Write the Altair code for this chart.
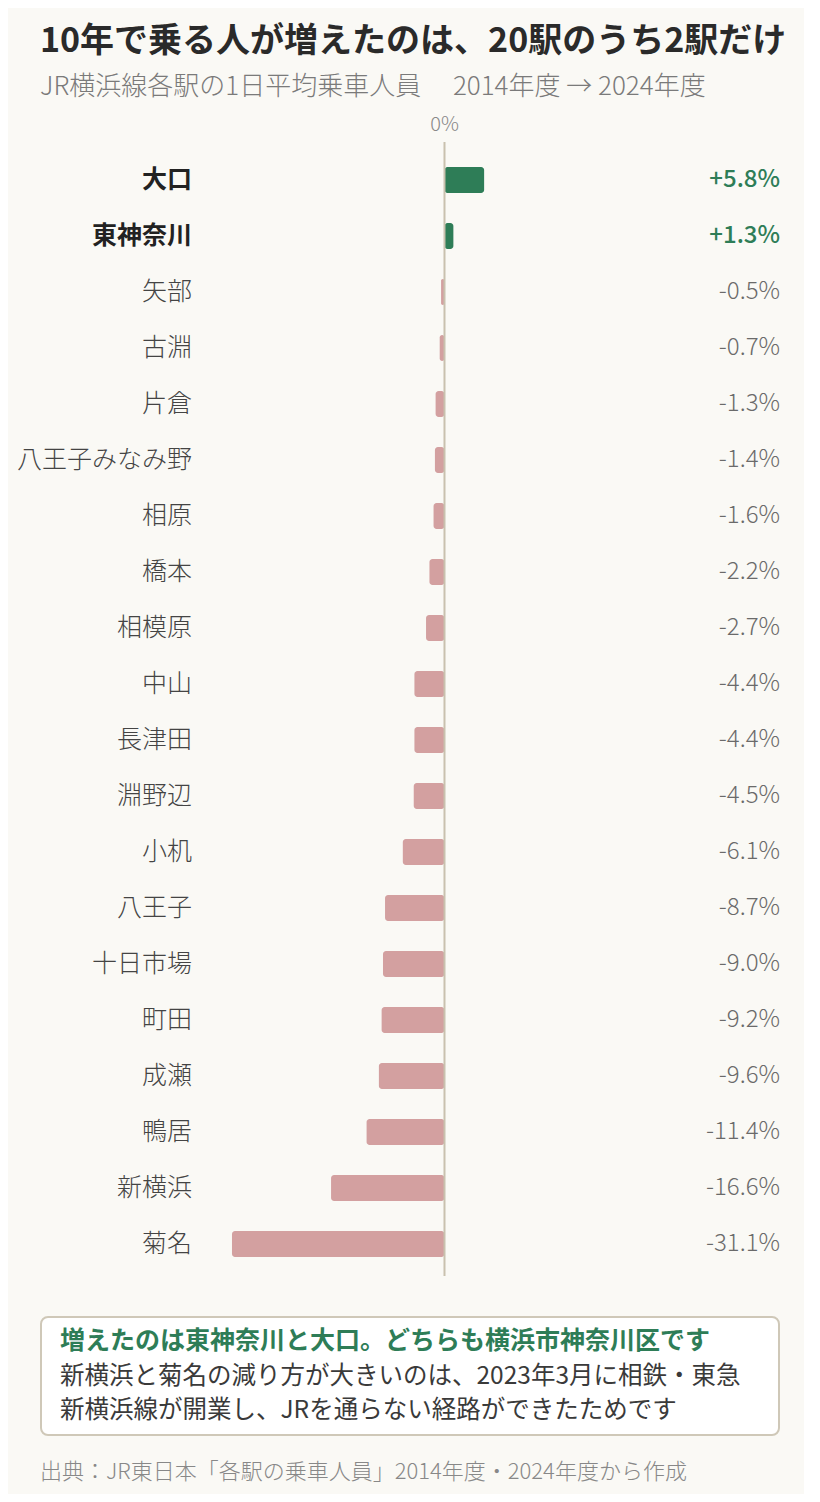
import altair as alt
import pandas as pd

stations = ["大口", "東神奈川", "矢部", "古淵", "片倉", "八王子みなみ野", "相原", "橋本", "相模原",
            "中山", "長津田", "淵野辺", "小机", "八王子", "十日市場", "町田", "成瀬", "鴨居", "新横浜", "菊名"]
changes = [5.8, 1.3, -0.5, -0.7, -1.3, -1.4, -1.6, -2.2, -2.7,
           -4.4, -4.4, -4.5, -6.1, -8.7, -9.0, -9.2, -9.6, -11.4, -16.6, -31.1]
labels = ["+5.8%", "+1.3%", "-0.5%", "-0.7%", "-1.3%", "-1.4%", "-1.6%", "-2.2%", "-2.7%",
          "-4.4%", "-4.4%", "-4.5%", "-6.1%", "-8.7%", "-9.0%", "-9.2%", "-9.6%", "-11.4%", "-16.6%", "-31.1%"]

TITLE = "10年で乗る人が増えたのは、20駅のうち2駅だけ"
SUBTITLE = "JR横浜線各駅の1日平均乗車人員　 2014年度 → 2024年度"
NOTE_HEAD = "増えたのは東神奈川と大口。どちらも横浜市神奈川区です"
NOTE_BODY = ["新横浜と菊名の減り方が大きいのは、2023年3月に相鉄・東急",
             "新横浜線が開業し、JRを通らない経路ができたためです"]
SOURCE = "出典：JR東日本「各駅の乗車人員」2014年度・2024年度から作成"

FONT = "Noto Sans CJK JP"
GREEN = "#2e7d57"
PINK = "#d3a0a0"
BG = "#faf9f5"

df = pd.DataFrame({"station": stations, "change": changes, "label": labels})

W, H = 580, 1140
xscale = alt.Scale(domain=[-35.78, 49.10], nice=False, zero=False)
yscale = alt.Scale(domain=stations, paddingInner=30 / 56, paddingOuter=25 / 56)

base = alt.Chart(df)
up = alt.datum.change > 0
pos = base.transform_filter(alt.datum.change > 0)
neg = base.transform_filter(alt.datum.change <= 0)

bars = base.mark_bar(cornerRadius=3).encode(
    x=alt.X("change:Q", scale=xscale, axis=None),
    x2=alt.datum(0),
    y=alt.Y("station:N", scale=yscale, axis=None, sort=None),
    color=alt.condition(up, alt.value(GREEN), alt.value(PINK)),
)

zero = alt.Chart(pd.DataFrame({"z": [0]})).mark_rule(color="#c9c1ae", strokeWidth=2).encode(
    x=alt.X("z:Q", scale=xscale),
    y=alt.value(0),
    y2=alt.value(1134),
)

zero_label = alt.Chart(pd.DataFrame({"z": [0], "t": ["0%"]})).mark_text(
    font=FONT, fontSize=20, fontWeight=300, color="#888888", baseline="middle", align="center"
).encode(x=alt.X("z:Q", scale=xscale), y=alt.value(-17), text="t:N")

def name_layer(src, weight, color):
    return src.mark_text(font=FONT, fontSize=25, align="right", baseline="middle",
                         fontWeight=weight, color=color).encode(
        y=alt.Y("station:N", scale=yscale, sort=None),
        x=alt.value(-8),
        text="station:N",
    )

def value_layer(src, weight, color):
    return src.mark_text(font=FONT, fontSize=24, align="right", baseline="middle",
                         fontWeight=weight, color=color).encode(
        y=alt.Y("station:N", scale=yscale, sort=None),
        x=alt.value(580),
        text="label:N",
    )

names_pos = name_layer(pos, "bold", "#222222")
names_neg = name_layer(neg, 300, "#444444")
values_pos = value_layer(pos, 500, GREEN)
values_neg = value_layer(neg, 300, "#6a6a6a")

def text_layer(txt, x, y, size, color, weight="normal"):
    return alt.Chart(pd.DataFrame({"t": [txt]})).mark_text(
        font=FONT, fontSize=size, color=color, fontWeight=weight, align="left", baseline="middle"
    ).encode(x=alt.value(x), y=alt.value(y), text="t:N")

title = text_layer(TITLE, -160, -100, 34, "#2a2a2a", "bold")
subtitle = text_layer(SUBTITLE, -160, -55, 26, "#7a7a7a", 300)

box = alt.Chart(pd.DataFrame({"b": [0]})).mark_rect(
    fill="#ffffff", stroke="#cfc8b8", strokeWidth=2, cornerRadius=7
).encode(x=alt.value(-159), x2=alt.value(579), y=alt.value(1175), y2=alt.value(1293))

note_head = text_layer(NOTE_HEAD, -140, 1199, 25, GREEN, "bold")
note_b1 = text_layer(NOTE_BODY[0], -140, 1235, 24.5, "#3a3a3a")
note_b2 = text_layer(NOTE_BODY[1], -140, 1268.5, 24.5, "#3a3a3a")
source = text_layer(SOURCE, -160, 1330, 22, "#888888", 300)

chart = alt.layer(
    bars, zero, zero_label, names_pos, names_neg, values_pos, values_neg, title, subtitle,
    box, note_head, note_b1, note_b2, source
).properties(
    width=W, height=H,
    padding={"left": 192, "top": 134, "right": 24, "bottom": 212},
    autosize=alt.AutoSizeParams(type="none"),
    background=BG,
).configure_view(stroke=None)

chart.save("out.html", embed_options={"renderer": "svg", "actions": False})
